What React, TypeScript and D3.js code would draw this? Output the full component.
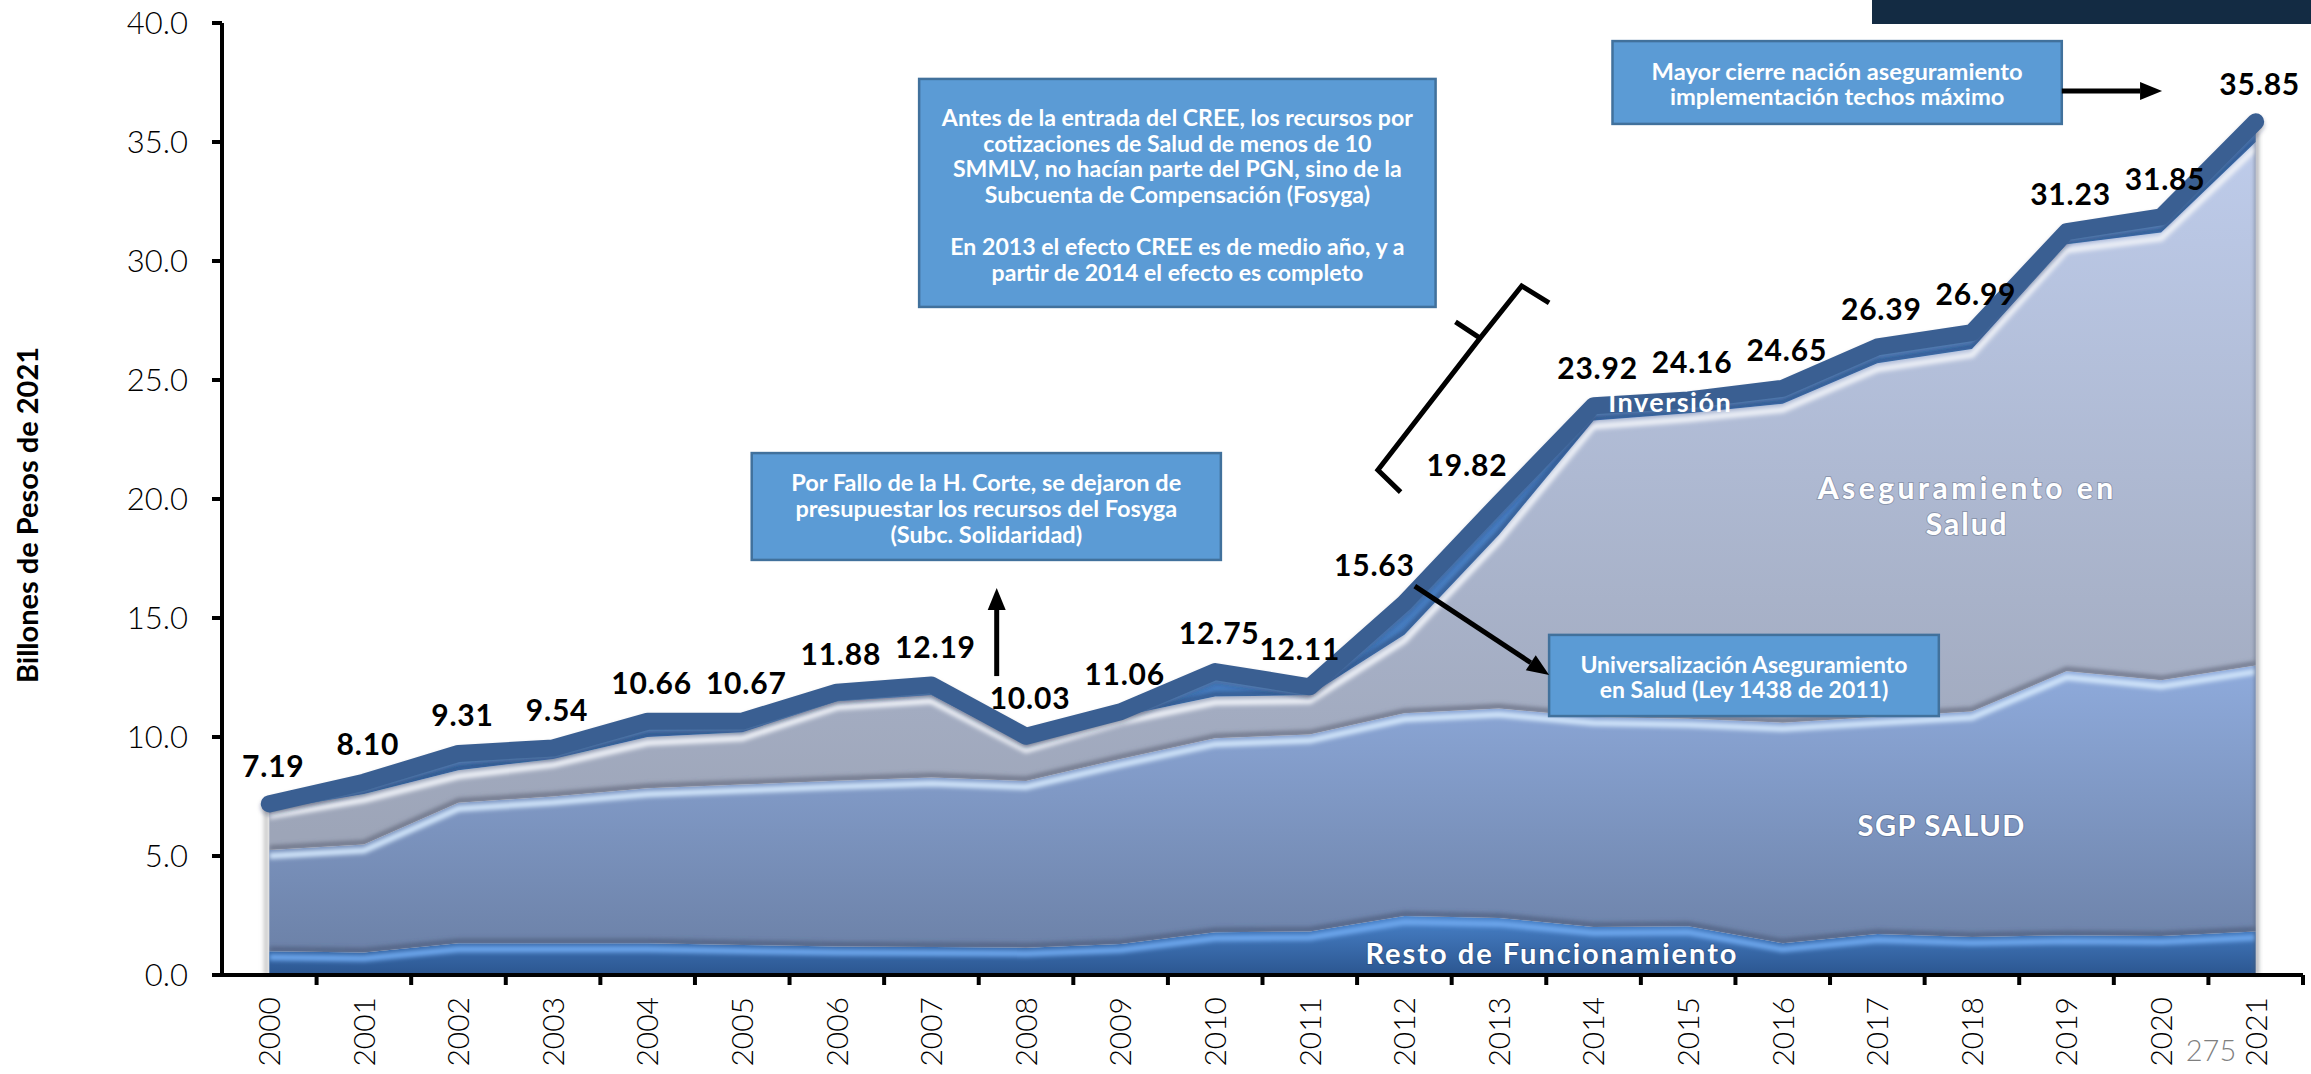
import React, { useEffect, useRef } from 'react';
import * as d3 from 'd3';

// Billones de pesos de 2021, por año
const years = [
  '2000', '2001', '2002', '2003', '2004', '2005', '2006', '2007', '2008', '2009', '2010',
  '2011', '2012', '2013', '2014', '2015', '2016', '2017', '2018', '2019', '2020', '2021',
];
const totals = [
  7.19, 8.1, 9.31, 9.54, 10.66, 10.67, 11.88, 12.19, 10.03, 11.06, 12.75,
  12.11, 15.63, 19.82, 23.92, 24.16, 24.65, 26.39, 26.99, 31.23, 31.85, 35.85,
];
const restoFuncionamiento = [
  1.0, 0.95, 1.33, 1.33, 1.33, 1.26, 1.2, 1.18, 1.15, 1.3, 1.8,
  1.83, 2.48, 2.4, 2.02, 2.05, 1.33, 1.72, 1.6, 1.67, 1.64, 1.83,
];
const sgpSalud = [
  4.25, 4.53, 5.91, 6.17, 6.52, 6.74, 6.96, 7.12, 7.0, 7.78, 8.15,
  8.27, 8.52, 8.8, 8.82, 8.72, 9.27, 9.12, 9.47, 11.09, 10.74, 11.17,
];
const aseguramiento = [
  1.68, 2.12, 1.36, 1.58, 2.15, 2.2, 3.34, 3.46, 1.55, 1.79, 1.75,
  1.66, 3.3, 7.3, 12.46, 12.83, 13.4, 14.86, 15.23, 17.94, 18.82, 22.0,
];
const inversion = [
  0.26, 0.5, 0.71, 0.46, 0.66, 0.47, 0.38, 0.43, 0.33, 0.19, 1.05,
  0.35, 1.33, 1.32, 0.62, 0.56, 0.65, 0.69, 0.69, 0.53, 0.65, 0.85,
];
const yTicks = [0, 5, 10, 15, 20, 25, 30, 35, 40];

const seriesKeys = ['resto', 'sgp', 'aseg', 'inv'];

// small horizontal nudges for crowded labels on the steep part
const labelNudge: Record<string, number> = { '2011': -14, '2012': -34, '2013': -36 };

const FONT = "'Century Gothic', Lato, 'Open Sans', sans-serif";

// annotation boxes, positioned in (year index, value) space
// w1 = width the first line takes in the original, used to fit the font
const notes = [
  {
    i0: 6.87, i1: 12.33, v0: 37.65, v1: 28.07, first: 39, lh: 25.8, size: 22, w1: 471,
    lines: [
      'Antes de la entrada del CREE, los recursos por',
      'cotizaciones de Salud de menos de 10',
      'SMMLV, no hacían parte del PGN, sino de la',
      'Subcuenta de Compensación (Fosyga)',
      '',
      'En 2013 el efecto CREE es de medio año, y a',
      'partir de 2014 el efecto es completo',
    ],
  },
  {
    i0: 5.1, i1: 10.06, v0: 21.93, v1: 17.44, first: 30, lh: 26, size: 22, w1: 390,
    lines: ['Por Fallo de la H. Corte, se dejaron de', 'presupuestar los recursos del Fosyga', '(Subc. Solidaridad)'],
  },
  {
    i0: 13.53, i1: 17.65, v0: 14.29, v1: 10.88, first: 30, lh: 25, size: 23, w1: 328,
    lines: ['Universalización Aseguramiento', 'en Salud (Ley 1438 de 2011)'],
  },
  {
    i0: 14.2, i1: 18.95, v0: 39.24, v1: 35.76, first: 31, lh: 25, size: 23, w1: 371,
    lines: ['Mayor cierre nación aseguramiento', 'implementación techos máximo'],
  },
];

const arrows = [
  { from: [7.69, 12.56], to: [7.69, 16.26] },
  { from: [12.11, 16.34], to: [13.53, 12.61] },
  { from: [18.95, 37.14], to: [20.01, 37.14] },
];

const layerLabels = [
  { text: 'Resto de Funcionamiento', i: 13.56, v: 0.46, size: 29, ls: 2 },
  { text: 'SGP SALUD', i: 17.68, v: 5.84, size: 29, ls: 1.5 },
  { text: 'Aseguramiento en', i: 17.95, v: 20.0, size: 30, ls: 3.5 },
  { text: 'Salud', i: 17.95, v: 18.49, size: 30, ls: 2 },
];
// this one sits on top of the total line
const inversionLabel = { text: 'Inversión', i: 14.81, v: 23.66, size: 27, ls: 1.5 };

const App: React.FC = () => {
  const svgRef = useRef<SVGSVGElement>(null);

  useEffect(() => {
    if (!svgRef.current) return;
    const width = 2311;
    const height = 1074;

    const svg = d3.select(svgRef.current).attr('width', width).attr('height', height);
    svg.selectAll('*').remove();

    const x = d3.scaleBand<string>().domain(years).range([222, 2303]);
    const bw = x.bandwidth();
    const cx = (yr: string) => (x(yr) as number) + bw / 2;
    const xi = (i: number) => x.range()[0] + (i + 0.5) * bw;
    const y = d3.scaleLinear().domain([0, 40]).range([975, 23]);

    const rows = years.map((yr, i) => ({
      year: yr,
      resto: restoFuncionamiento[i],
      sgp: sgpSalud[i],
      aseg: aseguramiento[i],
      inv: inversion[i],
    }));
    const stacked = d3.stack<any>().keys(seriesKeys)(rows);

    const defs = svg.append('defs');
    const grad = (id: string, v1: number, v2: number, c1: string, c2: string) => {
      const g = defs
        .append('linearGradient')
        .attr('id', id)
        .attr('gradientUnits', 'userSpaceOnUse')
        .attr('x1', 0)
        .attr('x2', 0)
        .attr('y1', y(v1))
        .attr('y2', y(v2));
      g.append('stop').attr('offset', 0).attr('stop-color', c1);
      g.append('stop').attr('offset', 1).attr('stop-color', c2);
    };
    grad('g-resto', 2.6, 0, '#4a84cc', '#2b5690');
    grad('g-sgp', 13, 0.5, '#8fabdc', '#6b80a6');
    grad('g-aseg', 36, 6, '#bfcdec', '#9da5b8');
    grad('g-inv', 36, 6, '#4f88cf', '#4479bb');

    const blur = (id: string, sd: number) =>
      defs
        .append('filter')
        .attr('id', id)
        .attr('filterUnits', 'userSpaceOnUse')
        .attr('x', 0)
        .attr('y', 0)
        .attr('width', width)
        .attr('height', height)
        .append('feGaussianBlur')
        .attr('stdDeviation', sd);
    blur('blur2', 2);

    const fills = ['url(#g-resto)', 'url(#g-sgp)', 'url(#g-aseg)', 'url(#g-inv)'];
    const highlights = ['#6ea8ee', '#d2e6fb', '#eef1f7', '#7fb4f0'];
    const shadows = ['#1d3a63', '#4b5a78', '#5f6679', '#2d4f80'];

    const area = d3
      .area<d3.SeriesPoint<any>>()
      .x((d) => cx(d.data.year))
      .y0((d) => y(d[0]))
      .y1((d) => y(d[1]));
    const topEdge = d3
      .line<d3.SeriesPoint<any>>()
      .x((d) => cx(d.data.year))
      .y((d) => y(d[1]));
    const bottomEdge = d3
      .line<d3.SeriesPoint<any>>()
      .x((d) => cx(d.data.year))
      .y((d) => y(d[0]));

    // soft shadow left of the first year
    svg
      .append('line')
      .attr('x1', cx(years[0]) - 3)
      .attr('x2', cx(years[0]) - 3)
      .attr('y1', y(totals[0]))
      .attr('y2', y(0))
      .attr('stroke', '#c8c8c8')
      .attr('stroke-width', 5)
      .attr('filter', 'url(#blur2)');

    stacked.forEach((s, k) => {
      const clipId = `clip-${k}`;
      defs.append('clipPath').attr('id', clipId).append('path').attr('d', area(s) as string);

      svg.append('path').attr('d', area(s) as string).attr('fill', fills[k]);

      const g = svg.append('g').attr('clip-path', `url(#${clipId})`);
      // darker shading just above the layer's lower edge
      if (k > 0) {
        g.append('path')
          .attr('d', bottomEdge(s) as string)
          .attr('fill', 'none')
          .attr('stroke', shadows[k])
          .attr('stroke-opacity', 0.75)
          .attr('stroke-width', 5)
          .attr('transform', 'translate(0,-2)')
          .attr('filter', 'url(#blur2)');
      }
      // bevel highlight just under the layer's top edge
      g.append('path')
        .attr('d', topEdge(s) as string)
        .attr('fill', 'none')
        .attr('stroke', highlights[k])
        .attr('stroke-width', 6)
        .attr('transform', 'translate(0,6)')
        .attr('filter', 'url(#blur2)');
    });

    // right edge shadow of the stacked block
    const last = years[years.length - 1];
    svg
      .append('line')
      .attr('x1', cx(last) + 1)
      .attr('x2', cx(last) + 1)
      .attr('y1', y(totals[totals.length - 1]) + 10)
      .attr('y2', y(0))
      .attr('stroke', '#555a66')
      .attr('stroke-opacity', 0.7)
      .attr('stroke-width', 3)
      .attr('filter', 'url(#blur2)');

    const layerText = (l: { text: string; i: number; v: number; size: number; ls: number }) =>
      svg
        .append('text')
        .attr('x', xi(l.i))
        .attr('y', y(l.v))
        .attr('text-anchor', 'middle')
        .attr('font-family', FONT)
        .attr('font-weight', 700)
        .attr('font-size', l.size)
        .attr('letter-spacing', l.ls)
        .attr('fill', '#ffffff')
        .text(l.text);

    layerLabels.forEach((l) => {
      layerText(l)
        .style('paint-order', 'stroke')
        .attr('stroke', 'rgba(40,50,70,0.25)')
        .attr('stroke-width', 2);
    });

    // total line
    const totalLine = d3
      .line<number>()
      .x((_, i) => cx(years[i]))
      .y((d) => y(d));
    svg
      .append('path')
      .attr('d', totalLine(totals) as string)
      .attr('fill', 'none')
      .attr('stroke', '#1c2f4a')
      .attr('stroke-opacity', 0.35)
      .attr('stroke-width', 17)
      .attr('stroke-linejoin', 'round')
      .attr('stroke-linecap', 'round')
      .attr('transform', 'translate(0,3)')
      .attr('filter', 'url(#blur2)');
    svg
      .append('path')
      .attr('d', totalLine(totals) as string)
      .attr('fill', 'none')
      .attr('stroke', '#3a5f92')
      .attr('stroke-width', 17)
      .attr('stroke-linejoin', 'round')
      .attr('stroke-linecap', 'round');

    layerText(inversionLabel);

    // total value labels
    svg
      .append('g')
      .selectAll('text')
      .data(totals)
      .enter()
      .append('text')
      .attr('x', (_, i) => cx(years[i]) + 4 + (labelNudge[years[i]] || 0))
      .attr('y', (d) => y(d) - 38)
      .attr('dy', '0.36em')
      .attr('text-anchor', 'middle')
      .attr('font-family', FONT)
      .attr('font-weight', 700)
      .attr('font-size', 30)
      .attr('letter-spacing', 0.8)
      .attr('fill', '#000')
      .text((d) => d.toFixed(2));

    // axes
    const axisG = svg.append('g');
    axisG
      .append('line')
      .attr('x1', x.range()[0])
      .attr('x2', x.range()[0])
      .attr('y1', y(40))
      .attr('y2', y(0))
      .attr('stroke', '#000')
      .attr('stroke-width', 4);
    axisG
      .append('line')
      .attr('x1', x.range()[0] - 10)
      .attr('x2', x.range()[1])
      .attr('y1', y(0))
      .attr('y2', y(0))
      .attr('stroke', '#000')
      .attr('stroke-width', 4);
    axisG
      .selectAll('line.ytick')
      .data(yTicks)
      .enter()
      .append('line')
      .attr('class', 'ytick')
      .attr('x1', x.range()[0] - 10)
      .attr('x2', x.range()[0])
      .attr('y1', (d) => y(d))
      .attr('y2', (d) => y(d))
      .attr('stroke', '#000')
      .attr('stroke-width', 4);
    axisG
      .selectAll('text.ylab')
      .data(yTicks)
      .enter()
      .append('text')
      .attr('class', 'ylab')
      .attr('x', x.range()[0] - 34)
      .attr('y', (d) => y(d))
      .attr('dy', '0.36em')
      .attr('text-anchor', 'end')
      .attr('font-family', FONT)
      .attr('font-weight', 300)
      .attr('font-size', 31)
      .attr('fill', '#000')
      .text((d) => d.toFixed(1));

    const bounds = [...years.map((yr) => x(yr) as number), x.range()[1]].slice(1);
    axisG
      .selectAll('line.xtick')
      .data(bounds)
      .enter()
      .append('line')
      .attr('class', 'xtick')
      .attr('x1', (d) => d)
      .attr('x2', (d) => d)
      .attr('y1', y(0))
      .attr('y2', y(0) + 10)
      .attr('stroke', '#000')
      .attr('stroke-width', 4);
    axisG
      .selectAll('text.xlab')
      .data(years)
      .enter()
      .append('text')
      .attr('class', 'xlab')
      .attr('transform', (d) => `translate(${cx(d)},${y(0) + 22}) rotate(-90)`)
      .attr('dy', '0.36em')
      .attr('text-anchor', 'end')
      .attr('font-family', FONT)
      .attr('font-weight', 300)
      .attr('font-size', 30)
      .attr('fill', '#000')
      .text((d) => d);

    svg
      .append('text')
      .attr('transform', `translate(38,515) rotate(-90)`)
      .attr('text-anchor', 'middle')
      .attr('font-family', FONT)
      .attr('font-weight', 700)
      .attr('font-size', 29)
      .attr('fill', '#000')
      .text('Billones de Pesos de 2021');

    // annotation boxes
    notes.forEach((n) => {
      const x0 = xi(n.i0);
      const x1 = xi(n.i1);
      const y0 = y(n.v0);
      const y1 = y(n.v1);
      svg
        .append('rect')
        .attr('x', x0)
        .attr('y', y0)
        .attr('width', x1 - x0)
        .attr('height', y1 - y0)
        .attr('fill', '#5b9bd5')
        .attr('stroke', '#41719c')
        .attr('stroke-width', 2.5);
      const texts: SVGTextElement[] = [];
      n.lines.forEach((ln, j) => {
        if (!ln) return;
        const t = svg
          .append('text')
          .attr('x', (x0 + x1) / 2)
          .attr('y', y0 + n.first + j * n.lh)
          .attr('dy', '0.36em')
          .attr('text-anchor', 'middle')
          .attr('font-family', FONT)
          .attr('font-weight', 700)
          .attr('font-size', n.size)
          .attr('fill', '#ffffff')
          .text(ln);
        texts.push(t.node() as SVGTextElement);
      });
      // fit the lines to the width the original text takes
      const base = texts[0].getComputedTextLength();
      const k = base > 0 ? Math.max(0.8, Math.min(1.15, n.w1 / base)) : 1;
      texts.forEach((t) => {
        const w = t.getComputedTextLength();
        if (w > 0 && Math.abs(k - 1) > 0.01) {
          t.setAttribute('textLength', String(w * k));
          t.setAttribute('lengthAdjust', 'spacingAndGlyphs');
        }
      });
    });

    // arrows
    arrows.forEach((a) => {
      const [fx, fy] = [xi(a.from[0]), y(a.from[1])];
      const [tx, ty] = [xi(a.to[0]), y(a.to[1])];
      const ang = Math.atan2(ty - fy, tx - fx);
      const head = 22;
      const half = 9;
      const bx = tx - head * Math.cos(ang);
      const by = ty - head * Math.sin(ang);
      svg
        .append('line')
        .attr('x1', fx)
        .attr('y1', fy)
        .attr('x2', bx)
        .attr('y2', by)
        .attr('stroke', '#000')
        .attr('stroke-width', 5);
      const px = -Math.sin(ang);
      const py = Math.cos(ang);
      svg
        .append('polygon')
        .attr(
          'points',
          [
            [tx, ty],
            [bx + half * px, by + half * py],
            [bx - half * px, by - half * py],
          ]
            .map((p) => p.join(','))
            .join(' '),
        )
        .attr('fill', '#000');
    });

    // bracket next to the CREE note
    const br = (i: number, v: number) => `${xi(i)},${y(v)}`;
    svg
      .append('path')
      .attr(
        'd',
        `M${br(13.53, 28.24)} L${br(13.24, 28.95)} L${br(12.8, 26.76)} L${br(11.72, 21.22)} L${br(11.96, 20.29)}` +
          ` M${br(12.8, 26.76)} L${br(12.54, 27.44)}`,
      )
      .attr('fill', 'none')
      .attr('stroke', '#000')
      .attr('stroke-width', 5)
      .attr('stroke-linejoin', 'miter');

    // slide decorations
    svg.append('rect').attr('x', 1872).attr('y', 0).attr('width', width - 1872).attr('height', 24).attr('fill', '#132b43');
    svg
      .append('text')
      .attr('x', 2211)
      .attr('y', 1051)
      .attr('dy', '0.36em')
      .attr('text-anchor', 'middle')
      .attr('font-family', FONT)
      .attr('font-weight', 300)
      .attr('font-size', 29)
      .attr('fill', '#7f7f7f')
      .text('275');
  }, []);

  return (
    <svg
      ref={svgRef}
      style={{ position: 'absolute', left: 0, top: 0, display: 'block', background: '#ffffff' }}
    />
  );
};

export default App;
